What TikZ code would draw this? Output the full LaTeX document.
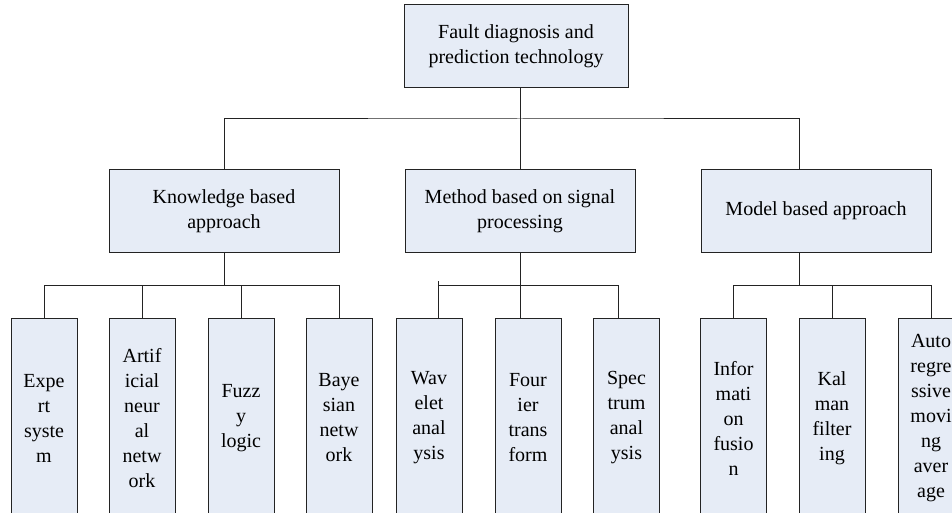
\documentclass[tikz,border=0pt]{standalone}
\usepackage{fontspec}
\setmainfont{Liberation Serif}
\usepackage{xcolor}
\usepackage{tikz}

\definecolor{boxfill}{RGB}{230,236,246}
\definecolor{edge}{RGB}{35,35,35}

\begin{document}
\begin{tikzpicture}[x=0.75pt, y=-0.75pt,
  box/.style={draw=edge, fill=boxfill, line width=0.75pt, align=center,
    inner sep=0pt, font=\fontsize{15}{18.75}\selectfont},
  rootbox/.style={box, minimum width=168pt, minimum height=62.25pt},
  groupbox/.style={box, minimum width=172.5pt, minimum height=61.5pt},
  leafbox/.style={box, minimum width=49.5pt, minimum height=150pt},
  link/.style={draw=edge, line width=0.75pt}
]
\useasboundingbox (0,0) rectangle (952,513);

% top and second level
\node[rootbox] (root) at (516,46.5) {Fault diagnosis and\\prediction technology};
\node[groupbox] (know) at (224,211) {Knowledge based\\approach};
\node[groupbox] (meth) at (520,211) {Method based on signal\\processing};
\node[groupbox] (model) at (816,211) {Model based approach};

% leaves
\node[leafbox] (expert) at (44,418) {Expe\\rt\\syste\\m};
\node[leafbox] (ann) at (142,418) {Artif\\icial\\neur\\al\\netw\\ork};
\node[leafbox] (fuzzy) at (241,418) {Fuzz\\y\\logic};
\node[leafbox] (bayes) at (339,418) {Baye\\sian\\netw\\ork};
\node[leafbox] (wav) at (429,418) {Wav\\elet\\anal\\ysis};
\node[leafbox] (four) at (528,418) {Four\\ier\\trans\\form};
\node[leafbox] (spec) at (626.5,418) {Spec\\trum\\anal\\ysis};
\node[leafbox] (info) at (733.5,418) {Infor\\mati\\on\\fusio\\n};
\node[leafbox] (kal) at (832,418) {Kal\\man\\filter\\ing};
\node[leafbox] (arma) at (931,418) {Auto\\regre\\ssive\\movi\\ng\\aver\\age};

\coordinate (bus) at (520,119);
\coordinate (row) at (0,285);

% first level links
\draw[link] (root.south -| bus) -- (meth.north);
\draw[link] (know.north) |- (bus) -| ([xshift=-12.75pt]model.north);

% knowledge branch
\draw[link] (expert.north) |- (bayes.north |- row) -- (bayes.north);
\foreach \n in {ann.north, fuzzy.north, know.south}
  \draw[link] (\n) -- (\n |- row);

% signal branch
\draw[link] ([xshift=6.75pt]wav.north) -- ++(0,-37);
\draw[link] ([xshift=6.75pt]wav.north |- row) -| ([xshift=-6.375pt]spec.north);
\draw[link] (meth.south) -- ([xshift=-6pt]four.north);

% model branch
\draw[link] (info.north) |- (arma.north |- row) -- (arma.north);
\draw[link] (kal.north) -- (kal.north |- row);
\draw[link] ([xshift=-12.75pt]model.south) -- ([xshift=-12.75pt]model.south |- row);
\end{tikzpicture}
\end{document}
